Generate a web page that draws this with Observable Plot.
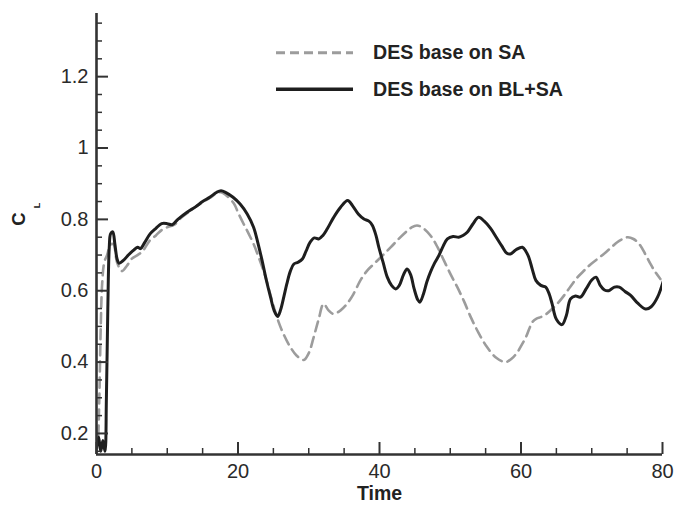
<!DOCTYPE html>
<html>
<head>
<meta charset="utf-8">
<script src="https://cdn.jsdelivr.net/npm/d3@7"></script>
<script src="https://cdn.jsdelivr.net/npm/@observablehq/plot@0.6"></script>
<style>
  html, body { margin: 0; padding: 0; background: #fff; }
  #wrap { position: relative; width: 677px; height: 509px; font-family: "Liberation Sans", Arial, sans-serif; }
  #legend { position: absolute; left: 0; top: 0; width: 677px; height: 260px; pointer-events: none; }
</style>
</head>
<body>
<div id="wrap"></div>
<script>
// ---- data ----
const seriesNames = ["DES base on SA", "DES base on BL+SA"];

const saTime = [0, 0.2, 0.4, 0.6, 0.8, 1.1, 1.5, 2.0, 2.4, 2.9, 3.6, 4.3, 5.0, 5.8, 6.5, 7.5, 8.4, 9.2, 10.0, 11.0, 12.0, 13.0, 14.0, 15.0, 16.0, 17.0, 17.6, 18.3, 19.4, 20.1, 20.8, 21.5, 22.2, 23.0, 23.9, 24.7, 25.5, 26.4, 27.4, 28.3, 29.3, 30.0, 30.7, 31.4, 32.1, 32.8, 33.5, 34.5, 35.4, 36.3, 37.3, 38.2, 39.2, 40.4, 41.6, 42.7, 43.7, 44.5, 45.3, 46.2, 47.2, 48.2, 49.1, 50.0, 51.0, 52.0, 52.9, 54.0, 55.2, 56.5, 57.8, 58.7, 59.5, 60.1, 60.7, 61.2, 61.6, 62.2, 62.8, 63.6, 64.4, 65.2, 66.1, 67.0, 68.0, 69.0, 69.9, 71.0, 72.0, 72.8, 73.6, 74.4, 75.1, 75.9, 76.7, 77.5, 78.3, 79.0, 79.7];
const saCL = [0.15, 0.18, 0.30, 0.50, 0.62, 0.68, 0.70, 0.73, 0.73, 0.68, 0.655, 0.67, 0.69, 0.70, 0.71, 0.74, 0.755, 0.77, 0.778, 0.785, 0.805, 0.82, 0.835, 0.848, 0.86, 0.873, 0.876, 0.868, 0.845, 0.815, 0.787, 0.76, 0.731, 0.69, 0.638, 0.58, 0.526, 0.48, 0.442, 0.418, 0.406, 0.425, 0.47, 0.52, 0.563, 0.545, 0.535, 0.545, 0.563, 0.59, 0.629, 0.655, 0.675, 0.698, 0.722, 0.745, 0.764, 0.777, 0.783, 0.775, 0.755, 0.722, 0.685, 0.648, 0.61, 0.568, 0.526, 0.482, 0.442, 0.412, 0.40, 0.41, 0.428, 0.448, 0.47, 0.495, 0.512, 0.522, 0.526, 0.535, 0.549, 0.565, 0.587, 0.612, 0.638, 0.658, 0.675, 0.692, 0.708, 0.722, 0.736, 0.745, 0.75, 0.745, 0.731, 0.705, 0.675, 0.652, 0.633];

const blTime = [0, 0.3, 0.6, 0.9, 1.2, 1.4, 1.6, 1.8, 2.0, 2.3, 2.6, 2.9, 3.2, 3.8, 4.5, 5.2, 5.8, 6.2, 6.8, 7.6, 8.4, 9.2, 10.0, 10.7, 11.5, 12.8, 14.0, 15.0, 16.0, 17.0, 17.6, 18.3, 19.3, 20.3, 21.3, 22.2, 22.8, 23.4, 24.0, 24.6, 25.1, 25.6, 26.0, 26.5, 26.9, 27.4, 27.9, 28.5, 29.1, 29.6, 30.2, 30.8, 31.4, 32.0, 32.6, 33.5, 34.5, 35.5, 36.2, 37.0, 37.8, 38.5, 39.0, 39.5, 39.9, 40.5, 41.1, 41.7, 42.3, 42.8, 43.4, 43.9, 44.4, 44.9, 45.4, 45.7, 46.2, 46.7, 47.2, 47.8, 48.4, 49.0, 49.6, 50.4, 51.2, 51.8, 52.4, 53.2, 54.0, 54.8, 55.7, 56.5, 57.3, 58.0, 58.5, 59.3, 60.2, 60.7, 61.1, 61.6, 62.1, 62.8, 63.5, 64.0, 64.4, 65.0, 65.8, 66.4, 67.0, 67.7, 68.4, 69.2, 70.0, 70.6, 71.2, 71.8, 72.4, 73.2, 73.9, 74.7, 75.5, 76.5, 77.6, 78.4, 79.3, 80.2];
const blCL = [0.16, 0.19, 0.15, 0.18, 0.15, 0.30, 0.55, 0.72, 0.76, 0.765, 0.73, 0.69, 0.677, 0.685, 0.70, 0.713, 0.722, 0.718, 0.735, 0.76, 0.775, 0.788, 0.788, 0.785, 0.80, 0.82, 0.835, 0.85, 0.862, 0.876, 0.88, 0.875, 0.862, 0.843, 0.815, 0.778, 0.735, 0.685, 0.63, 0.582, 0.545, 0.528, 0.545, 0.585, 0.619, 0.655, 0.675, 0.68, 0.689, 0.71, 0.736, 0.748, 0.745, 0.755, 0.773, 0.805, 0.834, 0.853, 0.838, 0.815, 0.801, 0.795, 0.783, 0.755, 0.722, 0.68, 0.638, 0.615, 0.605, 0.615, 0.645, 0.661, 0.645, 0.605, 0.575, 0.568, 0.59, 0.625, 0.652, 0.678, 0.699, 0.725, 0.745, 0.752, 0.75, 0.755, 0.764, 0.787, 0.806, 0.795, 0.775, 0.75, 0.725, 0.705, 0.703, 0.715, 0.722, 0.71, 0.694, 0.66, 0.629, 0.615, 0.61, 0.59, 0.563, 0.52, 0.505, 0.53, 0.577, 0.585, 0.582, 0.605, 0.63, 0.638, 0.615, 0.602, 0.60, 0.61, 0.61, 0.598, 0.587, 0.565, 0.549, 0.555, 0.582, 0.633];

const xDomain = [0, 80];
const yDomain = [0.141, 1.377];
const xMajorTicks = [0, 20, 40, 60, 80];
const xMinorTicks = [5, 10, 15, 25, 30, 35, 45, 50, 55, 65, 70, 75];
const yMajorTicks = [0.2, 0.4, 0.6, 0.8, 1, 1.2];
const yMajorLabels = ["0.2", "0.4", "0.6", "0.8", "1", "1.2"];
const yMinorTicks = [0.15, 0.25, 0.3, 0.35, 0.45, 0.5, 0.55, 0.65, 0.7, 0.75, 0.85, 0.9, 0.95, 1.05, 1.1, 1.15, 1.25, 1.3, 1.35];
const xLabel = "Time";
const yLabelMain = "C";
const yLabelSub = "L";

// ---- build ----
const sa = saTime.map((t, i) => ({t, v: saCL[i]}));
const bl = blTime.map((t, i) => ({t, v: blCL[i]}));
const yFmt = d => yMajorLabels[yMajorTicks.indexOf(d)];

const axisColor = "#333";
const chart = Plot.plot({
  width: 677,
  height: 509,
  marginLeft: 96,
  marginRight: 15,
  marginTop: 13,
  marginBottom: 55,
  x: {domain: xDomain},
  y: {domain: yDomain},
  style: {fontFamily: "'Liberation Sans', Arial, sans-serif", fontSize: "20px", color: "#2a2a2a", background: "#fff", overflow: "visible"},
  marks: [
    Plot.line(sa, {x: "t", y: "v", stroke: "#9c9c9c", strokeWidth: 2.6, strokeDasharray: "10,6", curve: "catmull-rom", clip: true}),
    Plot.line(bl, {x: "t", y: "v", stroke: "#1e1e1e", strokeWidth: 3, curve: "catmull-rom", clip: true}),
    Plot.axisY({ticks: yMinorTicks, tickSize: -6, tickFormat: () => "", label: null, stroke: axisColor, strokeWidth: 1.5}),
    Plot.axisY({ticks: yMajorTicks, tickSize: -12, tickPadding: 20, tickFormat: yFmt, label: null, stroke: axisColor, strokeWidth: 2}),
    Plot.axisX({ticks: xMinorTicks, tickSize: -6, tickFormat: () => "", label: null, stroke: axisColor, strokeWidth: 1.5}),
    Plot.axisX({ticks: xMajorTicks, tickSize: -12, tickPadding: 21, tickFormat: d => String(d), label: null, stroke: axisColor, strokeWidth: 2}),
    Plot.ruleX([xDomain[0]], {stroke: axisColor, strokeWidth: 2.6}),
    Plot.ruleY([yDomain[0]], {stroke: axisColor, strokeWidth: 2.6}),
    Plot.text([xLabel], {frameAnchor: "bottom", dy: 45, fontWeight: "bold", fontSize: "19.5px", fill: "#222"})
  ]
});

const wrap = document.getElementById("wrap");
wrap.appendChild(chart);

// overlay: legend and rotated C_L axis title
const ns = "http://www.w3.org/2000/svg";
const leg = document.createElementNS(ns, "svg");
leg.setAttribute("id", "legend");
leg.setAttribute("width", 677);
leg.setAttribute("height", 260);
const legStyles = [
  {stroke: "#9c9c9c", width: 3, dash: "9,5", y: 52.7},
  {stroke: "#1e1e1e", width: 3.6, dash: null, y: 89.3}
];
seriesNames.forEach((name, i) => {
  const s = legStyles[i];
  const ln = document.createElementNS(ns, "line");
  ln.setAttribute("x1", 276); ln.setAttribute("x2", 353);
  ln.setAttribute("y1", s.y); ln.setAttribute("y2", s.y);
  ln.setAttribute("stroke", s.stroke);
  ln.setAttribute("stroke-width", s.width);
  if (s.dash) ln.setAttribute("stroke-dasharray", s.dash);
  leg.appendChild(ln);
  const tx = document.createElementNS(ns, "text");
  tx.setAttribute("x", 373);
  tx.setAttribute("y", s.y + 6.5);
  tx.setAttribute("font-family", "'Liberation Sans', Arial, sans-serif");
  tx.setAttribute("font-size", 19.6);
  tx.setAttribute("font-weight", "bold");
  tx.setAttribute("fill", "#222");
  tx.textContent = name;
  leg.appendChild(tx);
});
function rotText(str, tx, ty, size) {
  const t = document.createElementNS(ns, "text");
  t.setAttribute("transform", `translate(${tx},${ty}) rotate(-90)`);
  t.setAttribute("text-anchor", "middle");
  t.setAttribute("font-family", "'Liberation Sans', Arial, sans-serif");
  t.setAttribute("font-size", size);
  t.setAttribute("font-weight", "bold");
  t.setAttribute("fill", "#222");
  t.textContent = str;
  leg.appendChild(t);
}
rotText(yLabelMain, 24.5, 219, 18.5);
rotText(yLabelSub, 40, 205.5, 9);
wrap.appendChild(leg);
</script>
</body>
</html>
